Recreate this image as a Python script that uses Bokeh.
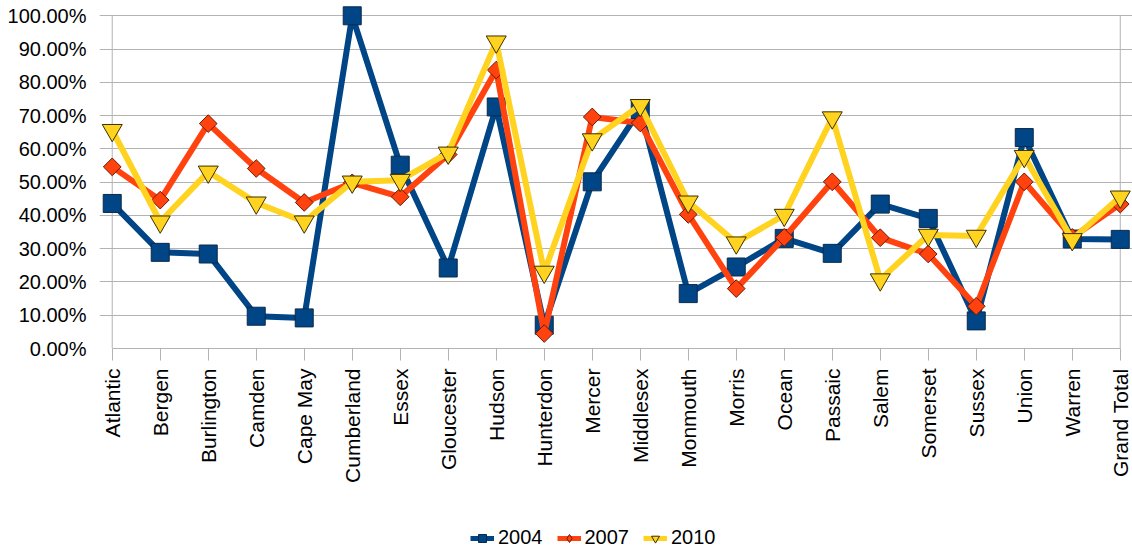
import math
from bokeh.plotting import figure
from bokeh.layouts import column
from bokeh.models import (Range1d, FixedTicker, NumeralTickFormatter, Legend, LegendItem)
from bokeh.embed import file_html
from bokeh.resources import INLINE

categories = ["Atlantic", "Bergen", "Burlington", "Camden", "Cape May", "Cumberland",
              "Essex", "Gloucester", "Hudson", "Hunterdon", "Mercer", "Middlesex",
              "Monmouth", "Morris", "Ocean", "Passaic", "Salem", "Somerset", "Sussex",
              "Union", "Warren", "Grand Total"]

y2004 = [0.436, 0.289, 0.284, 0.097, 0.092, 1.000, 0.551, 0.242, 0.726, 0.070, 0.501,
         0.718, 0.165, 0.245, 0.331, 0.286, 0.434, 0.391, 0.083, 0.634, 0.329, 0.328]
y2007 = [0.546, 0.446, 0.676, 0.541, 0.439, 0.498, 0.456, 0.583, 0.837, 0.045, 0.696,
         0.678, 0.403, 0.180, 0.334, 0.501, 0.333, 0.284, 0.127, 0.501, 0.334, 0.434]
y2010 = [0.656, 0.381, 0.531, 0.438, 0.381, 0.501, 0.506, 0.588, 0.922, 0.230, 0.628,
         0.731, 0.441, 0.318, 0.401, 0.694, 0.207, 0.341, 0.338, 0.578, 0.328, 0.456]

series_names = ["2004", "2007", "2010"]
y_ticks = [i / 10 for i in range(11)]

xs = list(range(len(categories)))

FONT = "Liberation Sans"
GRID = "#b3b3b3"

p = figure(width=1132, height=510, output_backend="svg", toolbar_location=None,
           x_range=Range1d(-0.265, 21.255), y_range=Range1d(0, 1.046),
           min_border_left=99, min_border_right=0, min_border_top=0,
           min_border_bottom=162)
p.outline_line_color = None
p.background_fill_color = "white"
p.border_fill_color = "white"

# grid
p.xgrid.visible = False
p.ygrid.ticker = FixedTicker(ticks=y_ticks)
p.ygrid.grid_line_color = GRID
p.ygrid.grid_line_width = 1

# y axis
p.yaxis.ticker = FixedTicker(ticks=y_ticks)
p.yaxis.formatter = NumeralTickFormatter(format="0.00%")
p.yaxis.axis_line_color = None
p.yaxis.major_tick_line_color = None
p.yaxis.minor_tick_line_color = None
p.yaxis.major_label_standoff = 7
p.yaxis.major_label_text_font = FONT
p.yaxis.major_label_text_font_size = "20px"
p.yaxis.major_label_text_color = "black"

# x axis
p.xaxis.ticker = FixedTicker(ticks=xs)
p.xaxis.major_label_overrides = {i: c for i, c in zip(xs, categories)}
p.xaxis.bounds = (xs[0], xs[-1])
p.xaxis.axis_line_color = GRID
p.xaxis.major_tick_line_color = GRID
p.xaxis.major_tick_out = 12
p.xaxis.major_tick_in = 0
p.xaxis.minor_tick_line_color = None
p.xaxis.major_label_orientation = math.pi / 2
p.xaxis.major_label_standoff = 8
p.xaxis.major_label_text_font = FONT
p.xaxis.major_label_text_font_size = "21px"
p.xaxis.major_label_text_color = "black"

# plot-area side borders
p.segment(x0=[xs[0], xs[-1]], x1=[xs[0], xs[-1]],
          y0=[y_ticks[0]] * 2, y1=[y_ticks[-1]] * 2, line_color=GRID, line_width=1)

colors = ["#004586", "#ff420e", "#ffd320"]
markers = ["square", "square", "inverted_triangle"]
angles = [0, math.pi / 4, 0]
sizes = [18, 12.5, 20]
legend_markers = ["square", "diamond", "inverted_triangle"]
legend_sizes = [18, 18, 20]
outline = ["#0b2a4a", "#6b1a05", "#3a3000"]

# legend strip (separate figure so the legend is not clipped by the plot frame)
q = figure(width=1132, height=40, output_backend="svg", toolbar_location=None,
           x_axis_location=None, y_axis_location=None,
           x_range=Range1d(1000, 1001), y_range=Range1d(1000, 1001),
           min_border=0)
q.outline_line_color = None
q.grid.visible = False
q.background_fill_color = "white"
q.border_fill_color = "white"

items = []
for name, ys, col, mk, ang, sz, lmk, lsz, oc in zip(series_names, [y2004, y2007, y2010], colors,
                                                    markers, angles, sizes, legend_markers,
                                                    legend_sizes, outline):
    p.line(xs, ys, line_color=col, line_width=6, line_join="round")
    p.scatter(xs, ys, marker=mk, angle=ang, size=sz, fill_color=col, line_color=oc, line_width=1)
    ln = q.line(xs, ys, line_color=col, line_width=5)
    sc = q.scatter(xs, ys, marker=lmk, size=lsz, fill_color=col, line_color=oc, line_width=1)
    items.append(LegendItem(label=name, renderers=[ln, sc]))

legend = Legend(items=items, orientation="horizontal", location=(371, 1),
                glyph_width=24, glyph_height=20, label_standoff=4, spacing=14,
                padding=0, margin=0, border_line_color=None, background_fill_alpha=0,
                label_text_font=FONT, label_text_font_size="20px", label_text_color="black")
q.add_layout(legend)

layout = column(p, q, spacing=0)
open("out.html", "w").write(file_html(layout, INLINE))
